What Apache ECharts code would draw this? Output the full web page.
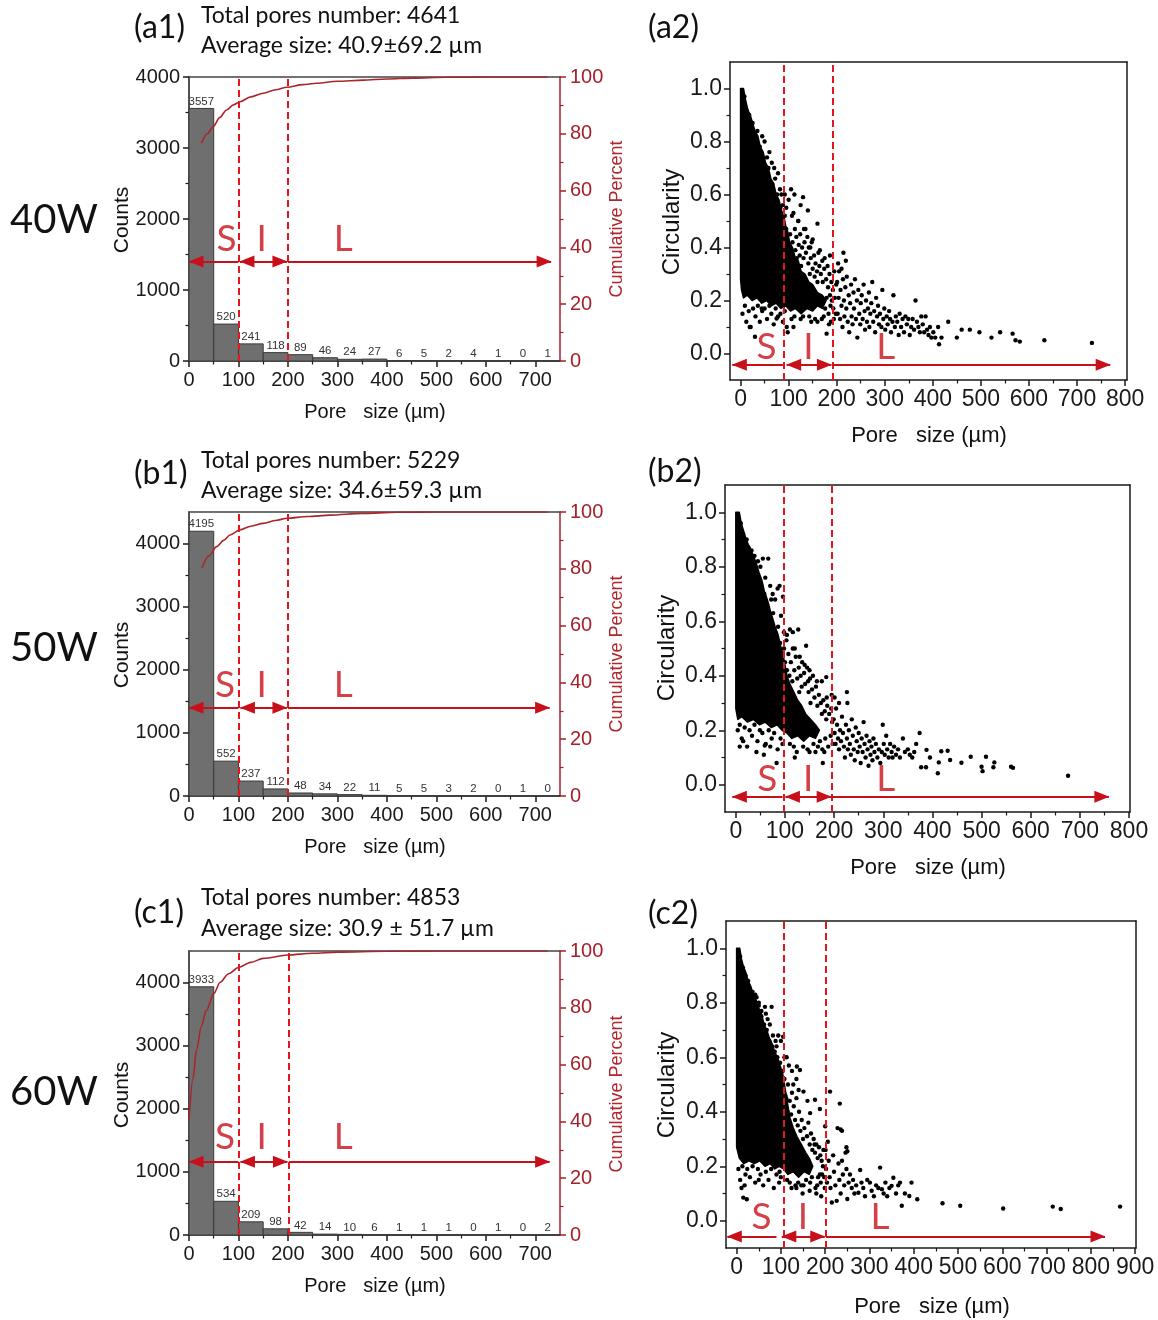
<!DOCTYPE html>
<html><head><meta charset="utf-8">
<script src="https://cdn.jsdelivr.net/npm/echarts@6/dist/echarts.min.js"></script>
<style>html,body{margin:0;padding:0;background:#fff}#c{width:1158px;height:1320px}</style>
</head><body><div id="c"></div>
<script>
// ---------------- DATA ----------------
const binEdges = [0,50,100,150,200,250,300,350,400,450,500,550,600,650,700,750];
const countsA1 = [3557,520,241,118,89,46,24,27,6,5,2,4,1,0,1];
const countsB1 = [4195,552,237,112,48,34,22,11,5,5,3,2,0,1,0];
const countsC1 = [3933,534,209,98,42,14,10,6,1,1,1,0,1,0,2];

const cumA1 = [[25,76.7],[37,80],[49,82.5],[62,85.7],[76,88.4],[90,90.2],[103,91.3],[125,93],[150,94.3],[175,95.5],[198,96.4],[230,97.3],[258,97.8],[300,98.5],[352,98.9],[400,99.3],[453,99.6],[520,99.9],[600,100],[725,100]];
const cumB1 = [[26,80.2],[40,84.5],[56,87.8],[70,90],[83,91.9],[103,93.7],[125,95],[150,96],[175,97],[198,97.8],[240,98.4],[285,98.9],[350,99.5],[420,99.9],[500,100],[725,100]];
const cumC1 = [[0,40.5],[8,55],[15,65],[25,73.5],[35,79],[50,85],[63,89],[80,92],[100,94.2],[125,96],[150,97.4],[200,98.6],[250,99.2],[300,99.6],[400,99.9],[500,100],[725,100]];

const histXTicks = [0,100,200,300,400,500,600,700];
const histXMinor = [50,150,250,350,450,550,650];
const countTicks = [0,1000,2000,3000,4000];
const countMinor = [500,1500,2500,3500];
const pctTicks = [0,20,40,60,80,100];
const pctMinor = [10,30,50,70,90];
const circTicks = [0,0.2,0.4,0.6,0.8,1.0];
const circMinor = [0.1,0.3,0.5,0.7,0.9];
const sizeTicks800 = [0,100,200,300,400,500,600,700,800];
const sizeMinor800 = [50,150,250,350,450,550,650,750];
const sizeTicks900 = [0,100,200,300,400,500,600,700,800,900];
const sizeMinor900 = [50,150,250,350,450,550,650,750,850];

// boundary lines (pore size) and S / I / L range arrows [from, to, level, heads]
const dashA1 = [100,200], dashB1 = [100,200], dashC1 = [100,202];
const dashA2 = [90,191], dashB2 = [98,196], dashC2 = [107,202];
const arrowsA1 = [[0,100,1400,'<'],[103,198,1400,'<>'],[200,732,1400,'>']];
const arrowsB1 = [[0,100,1400,'<'],[104,198,1400,'<>'],[200,729,1400,'>']];
const arrowsC1 = [[0,100,1160,'<'],[104,199,1160,'<>'],[202,729,1160,'>']];
const arrowsA2 = [[-17,88,-0.042,'<'],[96,189,-0.042,'<>'],[191,769,-0.042,'>']];
const arrowsB2 = [[-7,95,-0.044,'<'],[101,194,-0.044,'<>'],[196,759,-0.044,'>']];
const arrowsC2 = [[-21,90,-0.058,'<'],[102,199,-0.058,'<>'],[202,832,-0.058,'>']];
const zonesA1 = [['S',76,1720],['I',147,1720],['L',312,1720]];
const zonesB1 = [['S',73,1755],['I',147,1755],['L',312,1755]];
const zonesC1 = [['S',73,1555],['I',147,1555],['L',312,1555]];
const zonesA2 = [['S',54,0.025],['I',141,0.025],['L',302,0.025]];
const zonesB2 = [['S',64,0.02],['I',147,0.02],['L',305,0.02]];
const zonesC2 = [['S',56,0.012],['I',150,0.012],['L',324,0.012]];

// solid dense cores of the scatter clouds (outline, pore size vs circularity)
const coreA2 = [[0,1.0],[6,1.0],[10,0.96],[15,0.92],[20,0.9],[25,0.87],[30,0.84],[36,0.82],[41,0.78],[47,0.76],[52,0.72],[58,0.7],[63,0.66],[69,0.64],[74,0.6],[80,0.58],[85,0.54],[90,0.52],[94,0.48],[98,0.46],[102,0.42],[108,0.4],[114,0.36],[120,0.35],[126,0.31],[134,0.3],[142,0.27],[150,0.26],[160,0.23],[170,0.22],[178,0.2],[170,0.17],[160,0.18],[150,0.16],[138,0.17],[126,0.15],[114,0.17],[104,0.16],[94,0.18],[84,0.17],[74,0.19],[64,0.18],[54,0.2],[44,0.19],[34,0.21],[24,0.2],[14,0.22],[6,0.21],[2,0.24],[0,0.28]];
const coreB2 = [[0,1.0],[7,1.0],[11,0.96],[16,0.93],[21,0.9],[26,0.88],[31,0.86],[36,0.84],[42,0.81],[47,0.78],[53,0.75],[58,0.71],[64,0.68],[70,0.64],[75,0.61],[80,0.58],[86,0.55],[91,0.51],[96,0.48],[100,0.44],[104,0.4],[110,0.37],[118,0.34],[126,0.31],[134,0.29],[142,0.26],[152,0.24],[162,0.22],[170,0.2],[162,0.17],[150,0.18],[138,0.16],[126,0.18],[114,0.17],[104,0.19],[94,0.2],[84,0.22],[72,0.21],[60,0.23],[48,0.22],[36,0.24],[24,0.23],[12,0.25],[4,0.24],[0,0.28]];
const coreC2 = [[0,1.0],[7,1.0],[11,0.96],[16,0.93],[21,0.91],[26,0.88],[32,0.86],[38,0.83],[44,0.81],[50,0.78],[56,0.76],[62,0.72],[68,0.7],[74,0.67],[80,0.65],[86,0.62],[92,0.6],[98,0.57],[104,0.54],[108,0.5],[112,0.46],[116,0.42],[120,0.38],[128,0.34],[136,0.31],[146,0.28],[156,0.25],[164,0.23],[172,0.2],[164,0.17],[152,0.18],[140,0.16],[128,0.18],[116,0.17],[106,0.19],[96,0.2],[86,0.19],[76,0.21],[64,0.2],[52,0.22],[40,0.21],[28,0.22],[16,0.21],[6,0.23],[0,0.27]];

const pointsA2 = [
[8,0.97],[12,0.92],[18,0.9],[25,0.87],[22,0.85],[30,0.82],[35,0.84],[40,0.78],[45,0.82],[50,0.8],[55,0.74],[60,0.76],[65,0.72],[70,0.7],[72,0.66],[78,0.68],[82,0.62],[85,0.6],[88,0.56],[92,0.6],[95,0.55],[100,0.58],[105,0.62],[112,0.6],[110,0.53],[125,0.56],[130,0.59],[140,0.54],[120,0.5],[135,0.47],[150,0.43],[160,0.49],[145,0.4],[165,0.39],[175,0.36],[186,0.37],[203,0.34],[214,0.38],[219,0.35],[210,0.32],
[45,0.72],[50,0.68],[56,0.66],[62,0.6],[66,0.64],[72,0.56],[76,0.6],[80,0.52],[86,0.5],[90,0.47],[58,0.7],[68,0.58],[83,0.55],[92,0.44],[97,0.36],
[4,0.15],[9,0.18],[12,0.12],[17,0.16],[21,0.1],[26,0.17],[31,0.14],[36,0.18],[40,0.12],[45,0.16],[50,0.17],[55,0.13],[60,0.18],[64,0.15],[69,0.11],[73,0.17],[78,0.14],[83,0.15],[88,0.12],[92,0.16],[19,0.1],[30,0.063],[44,0.17],[75,0.132],[96,0.1],
[92,0.52],[95,0.47],[97,0.43],[99,0.39],[103,0.45],[105,0.37],[107,0.52],[108,0.42],[110,0.34],[113,0.47],[114,0.39],[116,0.44],[117,0.36],[120,0.5],[121,0.41],[123,0.37],[124,0.45],[126,0.33],[128,0.4],[131,0.36],[132,0.47],[133,0.42],[136,0.38],[139,0.44],[141,0.34],[142,0.4],[144,0.3],[146,0.36],[148,0.42],[150,0.32],[153,0.37],[154,0.29],[156,0.34],[159,0.31],[160,0.27],[162,0.38],[164,0.33],[167,0.3],[170,0.35],[171,0.27],[174,0.32],[178,0.28],[179,0.21],[181,0.33],[182,0.25],[185,0.3],[186,0.22],[189,0.27],[190,0.2],[192,0.24],[195,0.31],[196,0.21],[199,0.26],
[112,0.14],[125,0.13],[130,0.14],[143,0.14],[155,0.13],[169,0.13],[173,0.14],[183,0.15],[184,0.11],[188,0.12],[194,0.13],[198,0.15],[160,0.12],[147,0.12],[106,0.13],[98,0.08],[110,0.1],[179,0.075],[193,0.17],[187,0.18],[176,0.17],
[201,0.27],[202,0.15],[204,0.21],[205,0.31],[207,0.13],[208,0.24],[210,0.18],[212,0.1],[213,0.28],[215,0.2],[216,0.14],[218,0.25],[220,0.17],[221,0.29],[223,0.12],[225,0.22],[226,0.08],[228,0.19],[230,0.26],[231,0.14],[233,0.11],[235,0.23],[236,0.17],[238,0.28],[240,0.13],[242,0.2],[243,0.06],[245,0.24],[247,0.15],[249,0.11],[250,0.19],[252,0.22],[254,0.13],[256,0.26],[258,0.16],[259,0.09],[261,0.2],[263,0.12],[265,0.17],[267,0.23],[268,0.1],[270,0.15],[272,0.19],[274,0.27],[276,0.12],[278,0.16],[280,0.08],[282,0.21],[284,0.14],[286,0.18],[288,0.11],[290,0.15],[293,0.1],[295,0.24],[297,0.13],[299,0.17],[301,0.09],[304,0.14],[306,0.11],[309,0.16],[311,0.13],[313,0.08],[316,0.12],[318,0.22],[321,0.1],[323,0.14],[326,0.12],[329,0.07],[331,0.15],[334,0.1],[337,0.13],[340,0.08],[343,0.14],[346,0.11],[349,0.13],[352,0.07],[355,0.1],[358,0.13],[361,0.09],[364,0.2],[367,0.12],[370,0.1],[373,0.08],[376,0.14],[379,0.11],[382,0.08],[385,0.14],[388,0.09],[391,0.07],[394,0.1],[397,0.06],
[401,0.08],[405,0.06],[411,0.1],[413,0.035],[418,0.06],[432,0.12],[450,0.06],[460,0.09],[477,0.09],[497,0.08],[522,0.06],[540,0.08],[566,0.075],[572,0.05],[581,0.045],[632,0.05],[731,0.04]
];

const pointsB2 = [
[10,0.96],[15,0.92],[22,0.9],[26,0.87],[32,0.86],[38,0.84],[45,0.82],[50,0.8],[55,0.83],[60,0.76],[66,0.83],[70,0.73],[75,0.7],[80,0.68],[85,0.72],[89,0.73],[96,0.69],[92,0.62],[98,0.56],[104,0.55],[110,0.57],[116,0.56],[120,0.5],[127,0.57],[130,0.47],[143,0.51],[140,0.44],[150,0.42],[157,0.4],[165,0.38],[175,0.38],[184,0.395],[195,0.33],[201,0.32],[226,0.34],[227,0.3],[210,0.3],
[52,0.73],[58,0.7],[64,0.66],[70,0.6],[76,0.63],[80,0.56],[86,0.58],[90,0.52],[94,0.47],[72,0.68],[84,0.5],[98,0.42],[100,0.36],
[4,0.2],[8,0.22],[12,0.17],[18,0.21],[23,0.14],[28,0.2],[33,0.18],[38,0.22],[44,0.16],[49,0.2],[54,0.19],[61,0.15],[67,0.2],[73,0.17],[78,0.19],[85,0.13],[91,0.17],[95,0.15],[15,0.16],[42,0.12],[70,0.14],[8,0.14],[57,0.11],[83,0.08],[59,0.144],
[98,0.5],[100,0.45],[103,0.53],[104,0.42],[107,0.48],[109,0.4],[112,0.45],[115,0.38],[116,0.5],[119,0.42],[122,0.47],[125,0.39],[128,0.43],[129,0.34],[132,0.4],[134,0.36],[135,0.45],[139,0.41],[141,0.37],[145,0.43],[147,0.38],[148,0.34],[151,0.39],[152,0.3],[155,0.35],[160,0.32],[163,0.36],[166,0.29],[169,0.33],[173,0.3],[175,0.26],[178,0.31],[181,0.27],[184,0.24],[185,0.32],[186,0.29],[190,0.26],[194,0.28],[196,0.23],
[110,0.15],[118,0.14],[124,0.12],[137,0.14],[146,0.13],[150,0.12],[158,0.15],[162,0.12],[167,0.14],[171,0.16],[176,0.13],[180,0.12],[182,0.17],[188,0.14],[193,0.18],[197,0.15],[120,0.1],[177,0.08],
[199,0.24],[201,0.19],[203,0.15],[204,0.28],[206,0.22],[208,0.17],[210,0.13],[212,0.2],[214,0.16],[216,0.25],[218,0.19],[220,0.14],[222,0.1],[224,0.22],[226,0.17],[228,0.13],[230,0.2],[232,0.15],[234,0.11],[236,0.24],[238,0.18],[240,0.13],[242,0.09],[244,0.21],[246,0.16],[248,0.12],[250,0.19],[252,0.14],[254,0.08],[256,0.17],[258,0.12],[260,0.23],[262,0.15],[264,0.1],[266,0.18],[268,0.13],[270,0.07],[272,0.16],[274,0.11],[276,0.14],[278,0.09],[280,0.17],[282,0.12],[285,0.15],[288,0.1],[291,0.13],[294,0.08],[297,0.12],[299,0.22],[301,0.15],[303,0.11],[306,0.18],[308,0.13],[311,0.1],[314,0.15],[317,0.12],[319,0.1],[322,0.14],[326,0.11],[330,0.13],[334,0.1],[340,0.17],[344,0.12],[350,0.13],[354,0.11],[359,0.1],[363,0.12],[367,0.15],[374,0.19],[377,0.064],[387,0.064],[388,0.128],[395,0.1],
[411,0.042],[413,0.082],[418,0.123],[431,0.125],[436,0.091],[459,0.081],[478,0.103],[500,0.066],[502,0.05],[509,0.103],[524,0.064],[526,0.082],[560,0.066],[564,0.062],[676,0.033]
];

const pointsC2 = [
[8,0.97],[14,0.93],[20,0.9],[26,0.88],[30,0.83],[36,0.84],[42,0.83],[45,0.82],[50,0.8],[56,0.77],[64,0.785],[70,0.74],[79,0.785],[75,0.72],[82,0.68],[88,0.66],[94,0.68],[100,0.66],[105,0.675],[108,0.6],[113,0.6],[118,0.57],[125,0.55],[136,0.566],[143,0.553],[135,0.52],[151,0.474],[128,0.5],[140,0.48],[160,0.44],[166,0.395],[177,0.444],[188,0.41],[200,0.347],[211,0.474],[233,0.43],[235,0.335],[238,0.33],[248,0.27],[250,0.255],
[50,0.79],[56,0.75],[62,0.72],[68,0.7],[74,0.66],[80,0.64],[86,0.62],[92,0.6],[98,0.58],[104,0.55],[66,0.76],[90,0.64],[110,0.46],
[4,0.19],[8,0.15],[13,0.2],[18,0.13],[24,0.19],[30,0.16],[36,0.2],[42,0.14],[48,0.19],[54,0.17],[60,0.13],[66,0.18],[72,0.15],[78,0.19],[84,0.12],[90,0.17],[96,0.14],[100,0.16],[20,0.17],[50,0.15],[11,0.12],[15,0.085],[23,0.079],[97,0.18],
[108,0.52],[112,0.45],[115,0.4],[116,0.5],[120,0.44],[123,0.39],[125,0.47],[129,0.42],[132,0.37],[135,0.45],[138,0.35],[141,0.4],[144,0.33],[147,0.37],[150,0.3],[153,0.34],[159,0.31],[162,0.36],[165,0.28],[168,0.32],[171,0.26],[174,0.3],[176,0.28],[177,0.25],[180,0.28],[183,0.23],[186,0.27],[189,0.24],[192,0.22],[195,0.2],[196,0.26],
[114,0.15],[120,0.14],[124,0.12],[133,0.13],[135,0.12],[139,0.14],[146,0.13],[149,0.1],[151,0.13],[157,0.15],[165,0.11],[166,0.14],[170,0.16],[178,0.12],[180,0.1],[182,0.13],[184,0.16],[188,0.17],[190,0.14],[191,0.09],[193,0.17],[198,0.16],[199,0.12],
[201,0.26],[202,0.19],[204,0.14],[206,0.29],[208,0.22],[210,0.16],[212,0.12],[215,0.067],[218,0.24],[220,0.18],[223,0.13],[226,0.073],[228,0.34],[230,0.21],[232,0.15],[235,0.1],[238,0.22],[240,0.17],[243,0.13],[246,0.25],[248,0.19],[250,0.08],[253,0.14],[256,0.17],[260,0.12],[263,0.15],[266,0.1],[270,0.13],[275,0.103],[279,0.186],[282,0.14],[286,0.12],[290,0.09],[295,0.15],[301,0.14],[305,0.11],[310,0.09],[315,0.13],[320,0.12],[324,0.195],[328,0.116],[332,0.1],[336,0.14],[340,0.09],[345,0.12],[350,0.128],[354,0.158],[360,0.1],[365,0.13],[369,0.14],[373,0.055],[380,0.1],[390,0.091],[395,0.14],[408,0.079],
[465,0.064],[505,0.055],[602,0.045],[714,0.052],[732,0.043],[866,0.052]
];

// ---------------- STYLE / LAYOUT ----------------
const FA = '"Liberation Sans", Arial, sans-serif';
const FT = 'Lato, "Open Sans", sans-serif';
const INK = '#1a1a1a';
const RED_AX = '#a5202a';
const CURVE = '#a8262c';
const DASH = '#e3161e';
const ARROW = '#c8101a';
const ZONE = '#c8101a';

const option = {animation:false, backgroundColor:'#fff', grid:[], xAxis:[], yAxis:[], series:[], graphic:{elements:[]}};

function mainAxis(gi, pos, min, max, ticks, color, lineColor, fs, margin, fmt) {
  return {gridIndex:gi, type:'value', position:pos, min:min, max:max,
    axisLine:{show:true, onZero:false, lineStyle:{color:lineColor, width:1.5}},
    axisTick:{show:true, inside:false, length:6, customValues:ticks, lineStyle:{color:lineColor, width:1.5}},
    axisLabel:{show:true, customValues:ticks, margin:margin, color:color, fontSize:fs, fontFamily:FA, formatter:fmt || (v => String(v))},
    splitLine:{show:false}, minorTick:{show:false}};
}
function minorAxis(gi, pos, min, max, ticks, color) {
  return {gridIndex:gi, type:'value', position:pos, min:min, max:max,
    axisLine:{show:false, onZero:false},
    axisTick:{show:true, inside:false, length:3.5, customValues:ticks, lineStyle:{color:color, width:1.2}},
    axisLabel:{show:false}, splitLine:{show:false}};
}
function frameAxis(gi, pos, min, max, color) {
  return {gridIndex:gi, type:'value', position:pos, min:min, max:max,
    axisLine:{show:true, onZero:false, lineStyle:{color:color, width:1.5}},
    axisTick:{show:false}, axisLabel:{show:false}, splitLine:{show:false}};
}
function markLines(dash, arrows) {
  const data = [];
  dash.forEach(v => data.push({xAxis:v, symbol:'none', lineStyle:{type:[7,4], color:DASH, width:2}}));
  arrows.forEach(a => data.push([
    {coord:[a[0],a[2]], symbol:a[3].indexOf('<')>=0?'triangle':'none', symbolSize:[12,15], symbolOffset:[0,7], lineStyle:{color:ARROW, width:2.2, type:'solid'}},
    {coord:[a[1],a[2]], symbol:a[3].indexOf('>')>=0?'triangle':'none', symbolSize:[12,15], symbolOffset:[0,7]}
  ]));
  return {silent:true, animation:false, symbol:['none','none'], label:{show:false}, emphasis:{disabled:true}, data:data};
}
function zoneSeries(xi, yi, zones) {
  return {type:'scatter', xAxisIndex:xi, yAxisIndex:yi, silent:true, symbolSize:0, z:6,
    data: zones.map(z => ({name:z[0], value:[z[1], z[2]]})),
    label:{show:true, position:'inside', formatter:'{b}', color:ZONE, fontSize:37, fontFamily:FT}};
}

function histPanel(p) {
  const gi = option.grid.length;
  option.grid.push({left:p.l, top:p.t, width:p.w, height:p.h});
  const xi = option.xAxis.length;
  option.xAxis.push(mainAxis(gi,'bottom',0,750,histXTicks,INK,INK,20,9));
  option.xAxis.push(minorAxis(gi,'bottom',0,750,histXMinor,INK));
  option.xAxis.push(frameAxis(gi,'top',0,750,'#444'));
  const yi = option.yAxis.length;
  option.yAxis.push(mainAxis(gi,'left',0,p.ymax,countTicks,INK,INK,20,9));
  option.yAxis.push(minorAxis(gi,'left',0,p.ymax,countMinor,INK));
  option.yAxis.push(mainAxis(gi,'right',0,100,pctTicks,RED_AX,RED_AX,20,10));
  option.yAxis.push(minorAxis(gi,'right',0,100,pctMinor,RED_AX));
  const bars = p.counts.map((c,i) => [binEdges[i], binEdges[i+1], c]);
  option.series.push({type:'custom', xAxisIndex:xi, yAxisIndex:yi, silent:true, z:2,
    data:bars, encode:{x:[0,1], y:2},
    renderItem:function(params, api){
      const x0 = api.value(0), x1 = api.value(1), v = api.value(2);
      const a = api.coord([x0, v]), b = api.coord([x1, 0]);
      return {type:'group', children:[
        {type:'rect', shape:{x:a[0], y:a[1], width:b[0]-a[0], height:Math.max(b[1]-a[1],0)},
          style:{fill:'#6f6f6f', stroke:'#3a3a3a', lineWidth:1}},
        {type:'text', style:{text:String(v), x:(a[0]+b[0])/2, y:a[1]-1, align:'center', verticalAlign:'bottom',
          textAlign:'center', textVerticalAlign:'bottom', fill:'#333', font:'11.5px "Liberation Sans", Arial'}}
      ]};
    },
    markLine: markLines(p.dash, p.arrows)});
  option.series.push({type:'line', xAxisIndex:xi, yAxisIndex:yi+2, silent:true, z:3,
    data:p.cum, smooth:0.3, smoothMonotone:'x', showSymbol:false, symbol:'none',
    lineStyle:{color:CURVE, width:1.6}});
  option.series.push(zoneSeries(xi, yi, p.zones));
}

function scatterPanel(p) {
  const gi = option.grid.length;
  option.grid.push({left:p.l, top:p.t, width:p.w, height:p.h});
  const xi = option.xAxis.length;
  option.xAxis.push(mainAxis(gi,'bottom',p.xmin,p.xmax,p.xticks,INK,INK,23,8));
  option.xAxis.push(minorAxis(gi,'bottom',p.xmin,p.xmax,p.xminor,INK));
  option.xAxis.push(frameAxis(gi,'top',p.xmin,p.xmax,INK));
  const yi = option.yAxis.length;
  option.yAxis.push(mainAxis(gi,'left',-0.1,1.1,circTicks,INK,INK,23,8,v => v.toFixed(1)));
  option.yAxis.push(minorAxis(gi,'left',-0.1,1.1,circMinor,INK));
  option.yAxis.push(frameAxis(gi,'right',-0.1,1.1,INK));
  const core = p.core;
  option.series.push({type:'custom', xAxisIndex:xi, yAxisIndex:yi, silent:true, z:2,
    data:core, encode:{x:0, y:1},
    renderItem:function(params, api){
      if (params.dataIndex !== 0) return null;
      const pts = core.map(pt => api.coord(pt));
      return {type:'polygon', shape:{points:pts}, style:{fill:'#000', stroke:'#000', lineWidth:1.5, lineJoin:'round'}};
    }});
  option.series.push({type:'scatter', xAxisIndex:xi, yAxisIndex:yi, silent:true, z:3,
    data:p.points, symbol:'circle', symbolSize:4.4, itemStyle:{color:'#000', opacity:1},
    markLine: markLines(p.dash, p.arrows)});
  option.series.push(zoneSeries(xi, yi, p.zones));
}

histPanel({l:189, t:77, w:371, h:284, ymax:4000, counts:countsA1, cum:cumA1, dash:dashA1, arrows:arrowsA1, zones:zonesA1});
histPanel({l:189, t:512, w:371, h:284, ymax:4500, counts:countsB1, cum:cumB1, dash:dashB1, arrows:arrowsB1, zones:zonesB1});
histPanel({l:189, t:951, w:371, h:284, ymax:4500, counts:countsC1, cum:cumC1, dash:dashC1, arrows:arrowsC1, zones:zonesC1});
scatterPanel({l:730, t:62, w:397, h:318, xmin:-22, xmax:804, xticks:sizeTicks800, xminor:sizeMinor800, core:coreA2, points:pointsA2, dash:dashA2, arrows:arrowsA2, zones:zonesA2});
scatterPanel({l:725, t:485, w:405, h:327, xmin:-22, xmax:802, xticks:sizeTicks800, xminor:sizeMinor800, core:coreB2, points:pointsB2, dash:dashB2, arrows:arrowsB2, zones:zonesB2});
scatterPanel({l:726, t:921, w:410, h:327, xmin:-24, xmax:902, xticks:sizeTicks900, xminor:sizeMinor900, core:coreC2, points:pointsC2, dash:dashC2, arrows:arrowsC2, zones:zonesC2});

// ---------------- TEXT ----------------
function txt(s, x, y, font, fill, align, rot) {
  option.graphic.elements.push({type:'text', x:x, y:y, rotation:rot||0, silent:true, z:10,
    style:{text:s, font:font, fill:fill||'#111', align:align||'left', verticalAlign:'middle',
      textAlign:align||'left', textVerticalAlign:'middle'}});
}
const R = Math.PI/2;
txt('(a1)',134,28,'32px '+FT); txt('Total pores number: 4641',201,16,'23px '+FT); txt('Average size: 40.9\u00b169.2 \u00b5m',201,46,'23px '+FT);
txt('(b1)',134,474,'32px '+FT); txt('Total pores number: 5229',201,461,'23px '+FT); txt('Average size: 34.6\u00b159.3 \u00b5m',201,491,'23px '+FT);
txt('(c1)',134,913,'32px '+FT); txt('Total pores number: 4853',201,898,'23px '+FT); txt('Average size: 30.9 \u00b1 51.7 \u00b5m',201,929,'23px '+FT);
txt('(a2)',648,28,'32px '+FT); txt('(b2)',648,472,'32px '+FT); txt('(c2)',648,914,'32px '+FT);
txt('40W',10,220,'40px '+FT); txt('50W',10,648,'40px '+FT); txt('60W',10,1092,'40px '+FT);
[[220,412],[655,847],[1095,1286]].forEach(function(r){
  txt('Counts',122,r[0],'21px '+FA,'#111','center',R);
  txt('Cumulative Percent',617,r[0]-1,'18px '+FA,'#b0262c','center',R);
  txt('Pore   size (\u00b5m)',375,r[1],'20px '+FA,'#111','center');
});
txt('Circularity',672,222,'24px '+FA,'#111','center',R);
txt('Circularity',667,648,'24px '+FA,'#111','center',R);
txt('Circularity',667,1085,'24px '+FA,'#111','center',R);
txt('Pore   size (\u00b5m)',929,436,'22px '+FA,'#111','center');
txt('Pore   size (\u00b5m)',928,868,'22px '+FA,'#111','center');
txt('Pore   size (\u00b5m)',932,1307,'22px '+FA,'#111','center');

const chart = echarts.init(document.getElementById('c'), null, {renderer:'canvas'});
chart.setOption(option);
</script>
</body></html>
